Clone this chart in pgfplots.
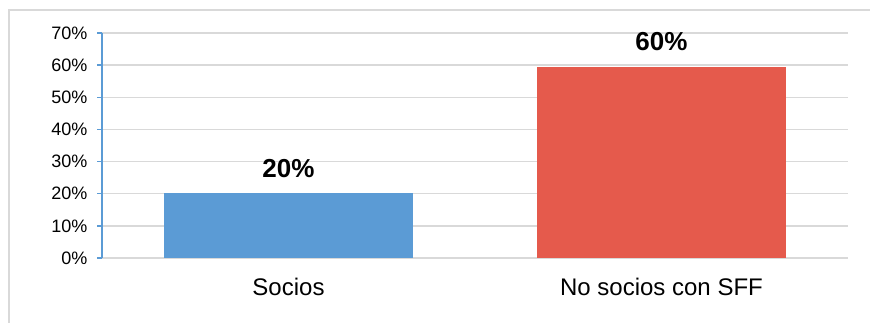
\documentclass[border=0pt]{standalone}
\usepackage{fontspec}
\setmainfont{Liberation Sans}
\usepackage{pgfplots}
\pgfplotsset{compat=1.18}
\definecolor{barblue}{HTML}{5B9BD5}
\definecolor{barred}{HTML}{E55A4C}
\definecolor{gridgray}{HTML}{D9D9D9}
\begin{document}
\begin{tikzpicture}[x=1pt,y=1pt]
\useasboundingbox (0,0) rectangle (870,323);
\draw[gridgray, line width=1.5pt] (9,-20) rectangle (890,313);
\begin{axis}[
  at={(102pt,65pt)}, anchor=south west,
  scale only axis, width=746pt, height=225pt,
  xmin=-0.5, xmax=1.5, ymin=0, ymax=70,
  /pgf/number format/assume math mode=true,
  ytick={0,10,...,70},
  yticklabel={\pgfmathprintnumber{\tick}\%},
  xtick={0,1}, xticklabels={Socios, No socios con SFF},
  axis x line*=bottom, axis y line*=left,
  x axis line style={gridgray, line width=1.5pt},
  y axis line style={barblue, line width=1.5pt},
  ymajorgrids, grid style={gridgray, line width=1.5pt},
  tick align=outside, major tick length=5pt,
  ytick style={barblue, line width=1.5pt},
  xtick style={draw=none},
  yticklabel style={font=\fontsize{18}{18}\selectfont, xshift=-6pt},
  xticklabel style={font=\fontsize{24}{24}\selectfont, anchor=base, yshift=-33pt},
]
\addplot[ybar, bar width=249pt, fill=barblue, draw=none,
  nodes near coords={20\%},
  every node near coord/.append style={font=\bfseries\fontsize{26}{26}\selectfont, anchor=base, yshift=16pt, text=black}]
  coordinates {(0,20.1)};
\addplot[ybar, bar width=249pt, fill=barred, draw=none,
  nodes near coords={60\%},
  every node near coord/.append style={font=\bfseries\fontsize{26}{26}\selectfont, anchor=base, yshift=16pt, text=black}]
  coordinates {(1,59.5)};
\end{axis}
\end{tikzpicture}
\end{document}
